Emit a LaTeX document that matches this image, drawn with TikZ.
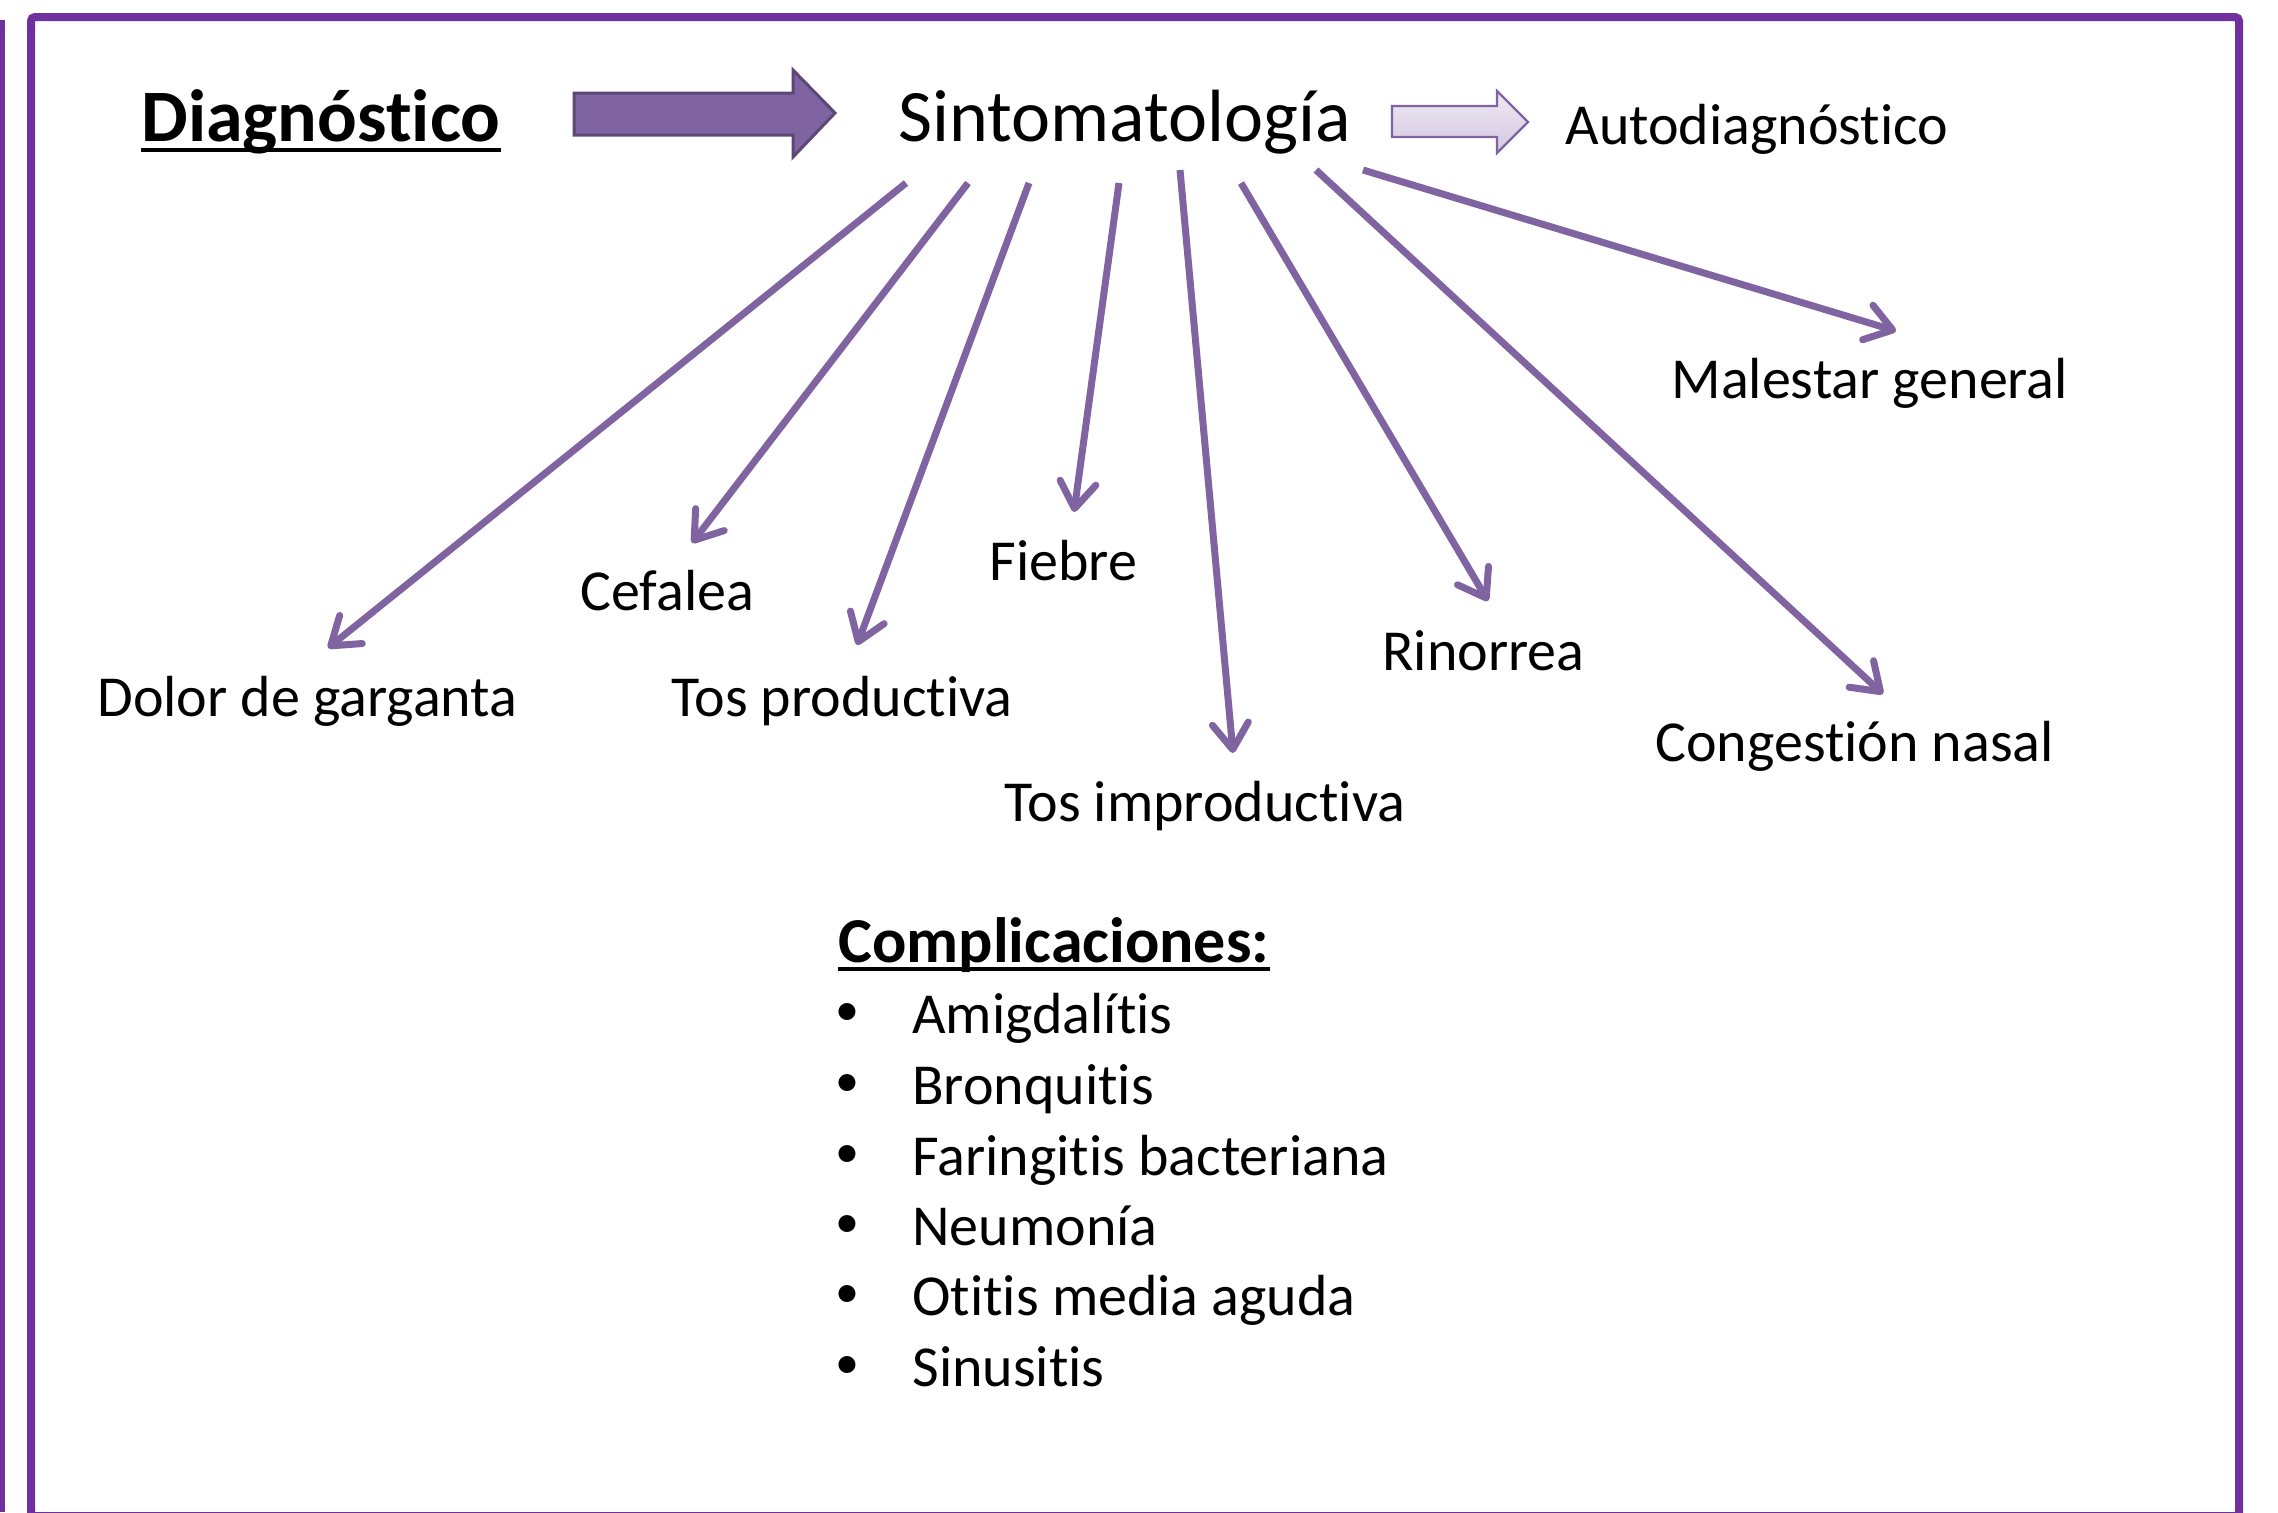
\documentclass[tikz,border=0pt]{standalone}
\usepackage{fontspec}
\setmainfont{Carlito}[Ligatures={NoCommon,NoRare,NoContextual},Contextuals=NoAlternate]
\usetikzlibrary{arrows.meta}
\newcommand\tI{t\kern0pt i}
\definecolor{framepurple}{HTML}{7030A0}
\definecolor{arrpurple}{HTML}{8064A2}
\definecolor{arrdark}{HTML}{5C4776}
\definecolor{lilactop}{HTML}{EEE9F3}
\definecolor{lilacbot}{HTML}{D3C8E2}
\begin{document}
\begin{tikzpicture}[x=0.5pt,y=-0.5pt,
 lbl/.style={anchor=base west,inner sep=0pt,font=\fontsize{29}{35}\selectfont},
 bigtxt/.style={anchor=base west,inner sep=0pt,font=\fontsize{37}{44}\selectfont},
 ray/.style={draw=arrpurple,line width=3.5pt,-{Straight Barb[length=13pt,width=18pt,round]}},
 uline/.style={line width=2pt},
 bul/.style={anchor=center,inner sep=0pt,font=\fontsize{24}{28}\selectfont}]
\useasboundingbox (0,0) rectangle (2278,1512);
% frames
\draw[framepurple,line width=4pt,rounded corners=2pt] (31,17) rectangle (2239,1516);
\draw[framepurple,line width=3pt] (2,20) -- (2,1512);
% title row
\node[bigtxt,font=\fontsize{37}{44}\selectfont\bfseries] (diag) at (141,141) {Diagnós\tI{}co};
\draw[uline] ([yshift=-4.5pt]diag.base west) -- ([yshift=-4.5pt]diag.base east);
\node[bigtxt] (sint) at (898,141) {Sintomatología};
\node[lbl] (auto) at (1565,144) {Autodiagnós\tI{}co};
% block arrows
\draw[fill=arrpurple,draw=arrdark,line width=1.5pt] (574,93) -- (793,93) -- (793,70) -- (835,113) -- (793,157) -- (793,135) -- (574,135) -- cycle;
\draw[top color=lilactop,bottom color=lilacbot,draw=arrpurple,line width=1.2pt] (1392,106) -- (1497,106) -- (1497,91) -- (1528,122) -- (1497,153) -- (1497,137) -- (1392,137) -- cycle;
% labels
\node[lbl] (male) at (1671,398) {Malestar general};
\node[lbl] (dolor) at (97,716) {Dolor de garganta};
\node[lbl] (cefa) at (580,610) {Cefalea};
\node[lbl] (tosp) at (671,716) {Tos produc\tI{}va};
\node[lbl] (fieb) at (989,580) {Fiebre};
\node[lbl] (tosi) at (1004,821) {Tos improduc\tI{}va};
\node[lbl] (rino) at (1382,670) {Rinorrea};
\node[lbl] (cong) at (1655,761) {Conges\tI{}ón nasal};
% arrow ends
\coordinate (s1) at (906,183);  \coordinate (e1) at (328,648);
\coordinate (s2) at (968,183);  \coordinate (e2) at (692,543);
\coordinate (s3) at (1029,183); \coordinate (e3) at (857,645);
\coordinate (s4) at (1119,183); \coordinate (e4) at (1074,512);
\coordinate (s5) at (1180,170); \coordinate (e5) at (1233,753);
\coordinate (s6) at (1241,183); \coordinate (e6) at (1488,601);
\coordinate (s7) at (1316,170); \coordinate (e7) at (1883,694);
\coordinate (s8) at (1363,170); \coordinate (e8) at (1896,331);
\foreach \i in {1,...,8} {\draw[ray] (s\i) -- (e\i);}
% complications
\node[lbl,font=\fontsize{32}{38}\selectfont\bfseries] (comp) at (838,962) {Complicaciones:};
\draw[uline] ([yshift=-3.5pt]comp.base west) -- ([yshift=-3.5pt]comp.base east);
\node[lbl] (c1) at (912,1033) {Amigdalí\tI{}s};
\node[lbl] (c2) at (912,1104) {Bronqui\tI{}s};
\node[lbl] (c3) at (912,1175) {Faringi\tI{}s bacteriana};
\node[lbl] (c4) at (912,1245) {Neumonía};
\node[lbl] (c5) at (912,1315) {O\tI{}\tI{}s media aguda};
\node[lbl] (c6) at (912,1386) {Sinusi\tI{}s};
\foreach \y in {1033,1104,1175,1245,1315,1386} {\node[bul] at (847,\y-19) {•};}
\end{tikzpicture}
\end{document}
